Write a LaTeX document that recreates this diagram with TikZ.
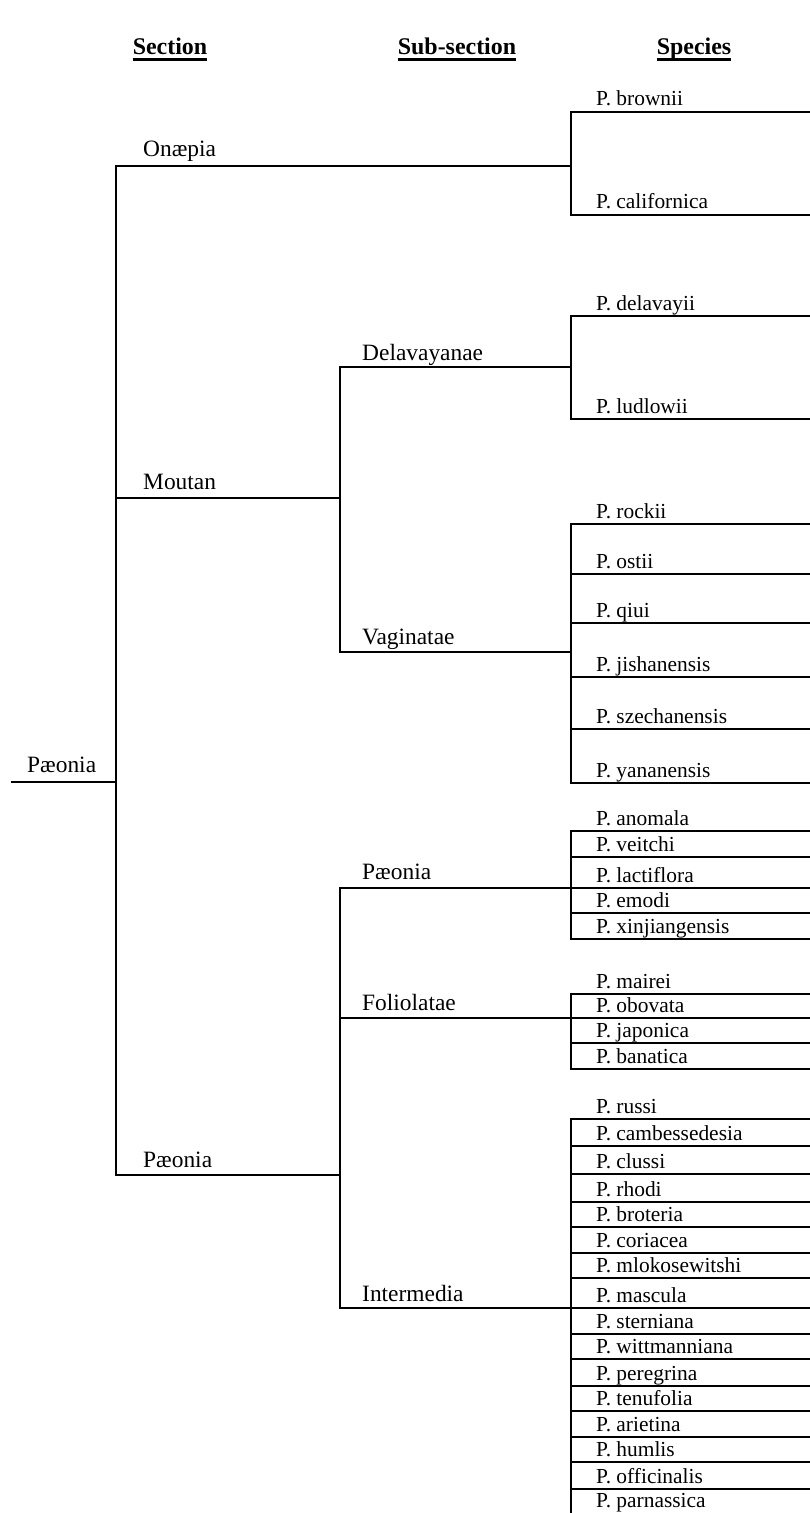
\documentclass[tikz,border=0pt]{standalone}
\usepackage{fontspec}
\setmainfont{Liberation Serif}
\begin{document}
\begin{tikzpicture}[x=1bp,y=-1bp,
  ln/.style={line width=2.8bp,line cap=rect},
  sp/.style={anchor=base west,inner sep=0pt,font=\fontsize{21.5}{24}\selectfont},
  sec/.style={anchor=base west,inner sep=0pt,font=\fontsize{23.5}{26}\selectfont},
  hd/.style={anchor=base,inner sep=0pt,font=\fontsize{24}{26}\selectfont\bfseries}]
\useasboundingbox (0,0) rectangle (809,1513);
% headers
\foreach \n/\t/\x in {h1/Section/170,h2/Sub-section/457,h3/Species/694}{
  \node[hd] (\n) at (\x,55) {\t};
  \draw[line width=2.4bp] ([yshift=-4.5bp]\n.base west) -- ([yshift=-4.5bp]\n.base east);
}
% species
\foreach \nm/\y in {brownii/112,californica/215,delavayii/316,ludlowii/419,
  rockii/524,ostii/574,qiui/623,jishanensis/677,szechanensis/729,yananensis/783,
  anomala/831,veitchi/857,lactiflora/888,emodi/913,xinjiangensis/939,
  mairei/994,obovata/1018,japonica/1043,banatica/1069,
  russi/1119,cambessedesia/1146,clussi/1174,rhodi/1202,broteria/1227,coriacea/1253,
  mlokosewitshi/1278,mascula/1308,sterniana/1334,wittmanniana/1359,peregrina/1386,
  tenufolia/1411,arietina/1437,humlis/1462,officinalis/1489}{
  \node[sp] (t-\nm) at (596,\y-6) {P. \nm};
  \coordinate (a-\nm) at (571,\y);
  \coordinate (b-\nm) at (809,\y);
  \draw[ln] (a-\nm) -- (b-\nm);
}
\node[sp] (t-parnassica) at (596,1507) {P. parnassica};
\coordinate (a-end) at (571,1513);
% species verticals
\draw[ln] (a-brownii) -- (a-californica);
\draw[ln] (a-delavayii) -- (a-ludlowii);
\draw[ln] (a-rockii) -- (a-yananensis);
\draw[ln] (a-anomala) -- (a-xinjiangensis);
\draw[ln] (a-mairei) -- (a-banatica);
\draw[ln] (a-russi) -- (a-end);
% sub-sections
\node[sec] (delav) at (362,360) {Delavayanae};
\node[sec] (vagin) at (362,644) {Vaginatae};
\node[sec] (paeosub) at (362,879) {Pæonia};
\node[sec] (folio) at (362,1010) {Foliolatae};
\node[sec] (inter) at (362,1301) {Intermedia};
\coordinate (cdel) at (340,367);
\coordinate (cdelR) at (571,367);
\coordinate (cvag) at (340,652);
\coordinate (cvagR) at (571,652);
\coordinate (cpsub) at (340,888);
\coordinate (cfol) at (340,1018);
\coordinate (cint) at (340,1308);
\draw[ln] (cdel) -- (cdelR);
\draw[ln] (cvag) -- (cvagR);
\draw[ln] (cdel) -- (cvag);
\draw[ln] (cpsub) -- (a-lactiflora);
\draw[ln] (cfol) -- (a-obovata);
\draw[ln] (cint) -- (a-mascula);
\draw[ln] (cpsub) -- (cint);
% sections
\node[sec] (onae) at (143,157) {Onæpia};
\node[sec] (mout) at (143,489) {Moutan};
\node[sec] (paeosec) at (143,1167) {Pæonia};
\coordinate (conae) at (116,166);
\coordinate (conaeR) at (571,166);
\coordinate (cmout) at (116,498);
\coordinate (cmoutR) at (340,498);
\coordinate (cpsec) at (116,1175);
\coordinate (cpsecR) at (340,1175);
\draw[ln] (conae) -- (conaeR);
\draw[ln] (cmout) -- (cmoutR);
\draw[ln] (cpsec) -- (cpsecR);
\draw[ln] (conae) -- (cpsec);
% root
\node[sec] (root) at (27,772) {Pæonia};
\coordinate (croot) at (12,782);
\coordinate (crootR) at (116,782);
\draw[ln] (croot) -- (crootR);
\end{tikzpicture}
\end{document}
